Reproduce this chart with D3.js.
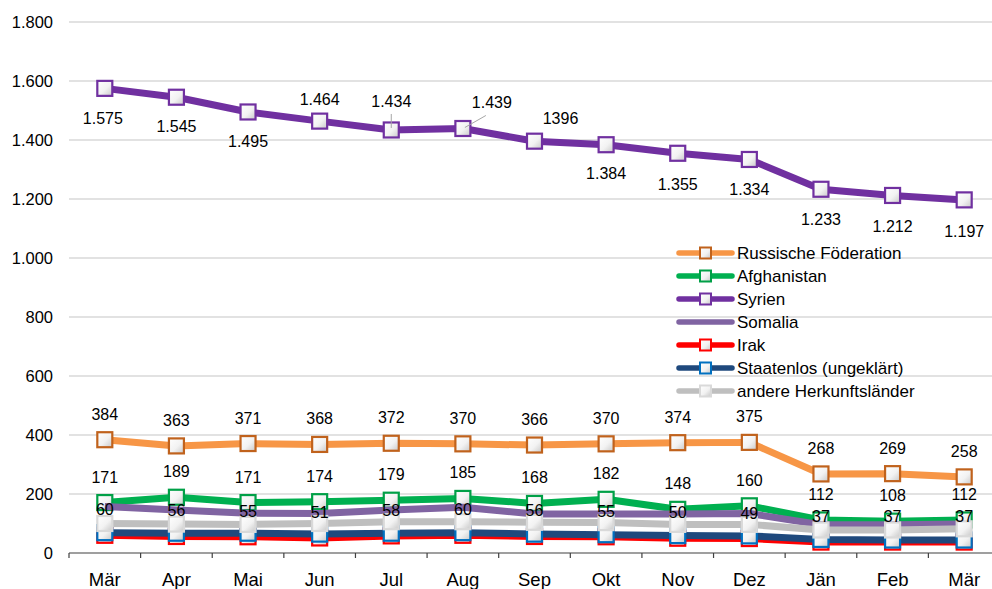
<!DOCTYPE html>
<html>
<head>
<meta charset="utf-8">
<script src="https://cdn.jsdelivr.net/npm/d3@7"></script>
<style>
  body { margin: 0; background: #fff; }
  text { font-family: "Liberation Sans", Arial, sans-serif; fill: #000; }
</style>
</head>
<body>
<div id="chart"></div>
<script>
// Months (Mär to Mär)
var months = ["Mär", "Apr", "Mai", "Jun", "Jul", "Aug", "Sep", "Okt", "Nov", "Dez", "Jän", "Feb", "Mär"];

// Series values
var russ = [384, 363, 371, 368, 372, 370, 366, 370, 374, 375, 268, 269, 258];
var afgh = [171, 189, 171, 174, 179, 185, 168, 182, 148, 160, 112, 108, 112];
var syrien = [1575, 1545, 1495, 1464, 1434, 1439, 1396, 1384, 1355, 1334, 1233, 1212, 1197];
var somalia = [158, 146, 135, 134, 146, 155, 132, 132, 132, 134, 96, 96, 98];
var irak = [60, 56, 55, 51, 58, 60, 56, 55, 50, 49, 37, 37, 37];
var staatenlos = [69, 67, 67, 64, 67, 69, 64, 62, 59, 58, 46, 44, 44];
var andere = [100, 98, 97, 100, 106, 106, 104, 103, 97, 97, 78, 78, 82];

// Label texts as printed in the chart
var syrienLbls = ["1.575", "1.545", "1.495", "1.464", "1.434", "1.439", "1396", "1.384", "1.355", "1.334", "1.233", "1.212", "1.197"];

// Y axis ticks
var yTicks = [0, 200, 400, 600, 800, 1000, 1200, 1400, 1600, 1800];
var yTickLbls = ["0", "200", "400", "600", "800", "1.000", "1.200", "1.400", "1.600", "1.800"];

var svgWdt = 992;
var svgHgt = 589;

var svg = d3.select("#chart").append("svg")
    .attr("width", svgWdt)
    .attr("height", svgHgt);

// Marker fill gradient
var defs = svg.append("defs");
var grad = defs.append("linearGradient")
    .attr("id", "mkFill")
    .attr("x1", "0").attr("y1", "0")
    .attr("x2", "1").attr("y2", "1");
grad.append("stop").attr("offset", "0%").attr("stop-color", "#ffffff");
grad.append("stop").attr("offset", "55%").attr("stop-color", "#f2f2f2");
grad.append("stop").attr("offset", "100%").attr("stop-color", "#c8c8c8");

// Scales
var xScale = d3.scalePoint()
    .domain(d3.range(months.length))
    .range([69, 1000])
    .padding(0.5);
var step = xScale.step();

var yScale = d3.scaleLinear()
    .domain([0, 1800])
    .range([553, 22]);

// Gridlines + y labels
var yAxis = svg.append("g");
yTicks.forEach(function(t, i) {
    if (t > 0) {
        yAxis.append("line")
            .attr("x1", 69).attr("x2", 1000)
            .attr("y1", yScale(t)).attr("y2", yScale(t))
            .attr("stroke", "#d9d9d9")
            .attr("stroke-width", 1.3);
    }
    yAxis.append("text")
        .attr("x", 53)
        .attr("y", yScale(t) + 5.5)
        .attr("text-anchor", "end")
        .style("font-size", "16.5px")
        .text(yTickLbls[i]);
});

// X axis
var xAxis = svg.append("g");
xAxis.append("line")
    .attr("x1", 69).attr("x2", 1000)
    .attr("y1", yScale(0)).attr("y2", yScale(0))
    .attr("stroke", "#404040")
    .attr("stroke-width", 1.2);
d3.range(months.length + 1).forEach(function(i) {
    var tx = 69 + i * step;
    xAxis.append("line")
        .attr("x1", tx).attr("x2", tx)
        .attr("y1", yScale(0)).attr("y2", yScale(0) + 5)
        .attr("stroke", "#404040")
        .attr("stroke-width", 1.2);
});
xAxis.selectAll(".xlbl").data(months)
    .enter()
    .append("text")
        .attr("class", "xlbl")
        .attr("x", (d, i) => xScale(i))
        .attr("y", 586)
        .attr("text-anchor", "middle")
        .style("font-size", "18.5px")
        .text(d => d);

// Series definitions (draw order as in the original)
var series = [
    {name: "Russische Föderation", vals: russ, line: "#f79646", mk: "#c0621c", marker: true},
    {name: "Afghanistan", vals: afgh, line: "#00b050", mk: "#00a047", marker: true},
    {name: "Syrien", vals: syrien, line: "#7030a0", mk: "#7030a0", marker: true},
    {name: "Somalia", vals: somalia, line: "#8064a2", mk: "#8064a2", marker: false},
    {name: "Irak", vals: irak, line: "#ff0000", mk: "#ff0000", marker: true},
    {name: "Staatenlos (ungeklärt)", vals: staatenlos, line: "#1f497d", mk: "#0070c0", marker: true},
    {name: "andere Herkunftsländer", vals: andere, line: "#bfbfbf", mk: "#d9d9d9", marker: true}
];

var lineGen = d3.line()
    .x((d, i) => xScale(i))
    .y(d => yScale(d));

var plotGrp = svg.append("g");
series.forEach(function(s) {
    var g = plotGrp.append("g");
    g.append("path")
        .datum(s.vals)
        .attr("d", lineGen)
        .attr("fill", "none")
        .attr("stroke", s.line)
        .attr("stroke-width", 7)
        .attr("stroke-linejoin", "round");
    if (s.marker) {
        g.selectAll("rect").data(s.vals)
            .enter()
            .append("rect")
                .attr("x", (d, i) => xScale(i) - 7.5)
                .attr("y", d => yScale(d) - 7.5)
                .attr("width", 15)
                .attr("height", 15)
                .attr("fill", "url(#mkFill)")
                .attr("stroke", s.mk)
                .attr("stroke-width", 2.2);
    }
});

// Data labels
var lblGrp = svg.append("g").style("font-size", "16px");

function addLabels(vals, texts) {
    lblGrp.selectAll(null).data(vals)
        .enter()
        .append("text")
            .attr("x", (d, i) => xScale(i))
            .attr("y", d => yScale(d) - 20)
            .attr("text-anchor", "middle")
            .text((d, i) => texts ? texts[i] : d);
}
addLabels(russ);
addLabels(afgh);
addLabels(irak);

// Syrien labels: placement nudges (label center relative to point)
var syrNudge = [[-2, 30], [0, 29], [0, 29], [0, -22], [0, -29], [29, -26], [26, -23],
                [0, 28], [0, 31], [0, 30], [0, 30], [0, 31], [0, 31]];
// Leader lines for Jul and Aug
lblGrp.append("line")
    .attr("x1", xScale(4)).attr("x2", xScale(4))
    .attr("y1", yScale(syrien[4]) - 2).attr("y2", yScale(syrien[4]) - 16)
    .attr("stroke", "#a6a6a6").attr("stroke-width", 1);
lblGrp.append("line")
    .attr("x1", xScale(5) + 2).attr("x2", xScale(5) + 23)
    .attr("y1", yScale(syrien[5]) - 1).attr("y2", yScale(syrien[5]) - 13)
    .attr("stroke", "#a6a6a6").attr("stroke-width", 1);
lblGrp.selectAll(null).data(syrien)
    .enter()
    .append("text")
        .attr("x", (d, i) => xScale(i) + syrNudge[i][0])
        .attr("y", (d, i) => yScale(d) + syrNudge[i][1] + 6)
        .attr("text-anchor", "middle")
        .text((d, i) => syrienLbls[i]);

// Legend
var legend = svg.append("g").attr("transform", "translate(679, 253)");
series.forEach(function(s, i) {
    var row = legend.append("g").attr("transform", `translate(0, ${i * 23})`);
    row.append("line")
        .attr("x1", 0).attr("x2", 53)
        .attr("y1", 0).attr("y2", 0)
        .attr("stroke", s.line)
        .attr("stroke-width", 5.5)
        .attr("stroke-linecap", "round");
    if (s.marker) {
        row.append("rect")
            .attr("x", 21).attr("y", -5.5)
            .attr("width", 11).attr("height", 11)
            .attr("fill", "url(#mkFill)")
            .attr("stroke", s.mk)
            .attr("stroke-width", 2);
    }
    row.append("text")
        .attr("x", 58)
        .attr("y", 6)
        .style("font-size", "17px")
        .text(s.name);
});
</script>
</body>
</html>
